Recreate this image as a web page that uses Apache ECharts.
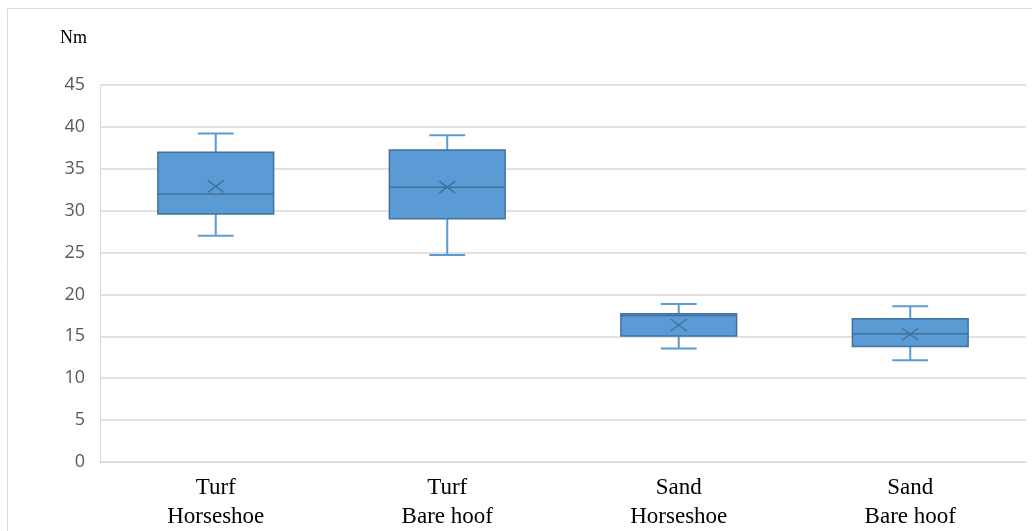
<!DOCTYPE html>
<html>
<head>
<meta charset="utf-8">
<script src="https://cdn.jsdelivr.net/npm/echarts@6/dist/echarts.min.js"></script>
<style>
html,body{margin:0;padding:0;background:#fff;}
#chart{width:1032px;height:531px;}
</style>
</head>
<body>
<div id="chart"></div>
<script>
var categories = ['Turf\nHorseshoe', 'Turf\nBare hoof', 'Sand\nHorseshoe', 'Sand\nBare hoof'];
var mins    = [27.0, 24.7, 13.55, 12.15];
var q1s     = [29.6, 29.05, 15.05, 13.8];
var medians = [32.0, 32.8, 17.5, 15.3];
var q3s     = [36.98, 37.25, 17.7, 17.1];
var maxs    = [39.2, 39.0, 18.85, 18.6];
var means   = [32.9, 32.8, 16.35, 15.25];
var yTicks  = [0, 5, 10, 15, 20, 25, 30, 35, 40, 45];

var data = categories.map(function (c, i) {
  return [i, mins[i], q1s[i], medians[i], q3s[i], maxs[i], means[i]];
});

var fill = '#5B9BD5';
var edge = '#41719C';

var chart = echarts.init(document.getElementById('chart'), null, {renderer: 'canvas'});
chart.setOption({
  animation: false,
  backgroundColor: '#fff',
  graphic: [
    {type: 'rect', shape: {x: 7.5, y: 8.5, width: 1040, height: 540}, style: {fill: 'none', stroke: '#d9d9d9', lineWidth: 1}, silent: true},
    {type: 'text', left: 60, top: 29, style: {text: 'Nm', font: '18px "Liberation Serif", "DejaVu Serif", serif', fill: '#000'}}
  ],
  grid: {left: 100, right: 6, top: 85, bottom: 68},
  xAxis: {
    type: 'category',
    data: categories,
    axisLine: {show: true, lineStyle: {color: '#d9d9d9'}},
    axisTick: {show: false},
    axisLabel: {
      color: '#000',
      fontFamily: '"Liberation Serif", "DejaVu Serif", serif',
      fontSize: 23,
      lineHeight: 29,
      margin: 11
    }
  },
  yAxis: {
    type: 'value',
    min: 0, max: 45, interval: 5,
    axisLine: {show: true, lineStyle: {color: '#d9d9d9'}},
    axisTick: {show: false},
    splitLine: {lineStyle: {color: '#d9d9d9', width: 1.5}},
    axisLabel: {
      color: '#595959',
      fontFamily: '"Open Sans", "Noto Sans", sans-serif',
      fontSize: 18,
      margin: 15,
      formatter: function (v) { return yTicks.indexOf(v) >= 0 ? String(v) : ''; }
    }
  },
  series: [{
    type: 'custom',
    data: data,
    renderItem: function (params, api) {
      var x = api.value(0);
      var bw = api.size([1, 0])[0] * 0.5;
      var cap = api.size([1, 0])[0] * 0.155;
      var pMin = api.coord([x, api.value(1)]);
      var pQ1 = api.coord([x, api.value(2)]);
      var pMed = api.coord([x, api.value(3)]);
      var pQ3 = api.coord([x, api.value(4)]);
      var pMax = api.coord([x, api.value(5)]);
      var pMean = api.coord([x, api.value(6)]);
      var cx = pMed[0];
      var m = 12;
      return {
        type: 'group',
        children: [
          {type: 'line', shape: {x1: cx, y1: pQ3[1], x2: cx, y2: pMax[1]}, style: {stroke: fill, lineWidth: 2}},
          {type: 'line', shape: {x1: cx, y1: pQ1[1], x2: cx, y2: pMin[1]}, style: {stroke: fill, lineWidth: 2}},
          {type: 'line', shape: {x1: cx - cap / 2, y1: pMax[1], x2: cx + cap / 2, y2: pMax[1]}, style: {stroke: fill, lineWidth: 2}},
          {type: 'line', shape: {x1: cx - cap / 2, y1: pMin[1], x2: cx + cap / 2, y2: pMin[1]}, style: {stroke: fill, lineWidth: 2}},
          {type: 'rect', shape: {x: cx - bw / 2, y: pQ3[1], width: bw, height: pQ1[1] - pQ3[1]}, style: {fill: fill, stroke: edge, lineWidth: 1.5}},
          {type: 'line', shape: {x1: cx - bw / 2, y1: pMed[1], x2: cx + bw / 2, y2: pMed[1]}, style: {stroke: edge, lineWidth: 1.5}},
          {type: 'line', shape: {x1: cx - m / 2 - 2, y1: pMean[1] - m / 2, x2: cx + m / 2 + 2, y2: pMean[1] + m / 2}, style: {stroke: edge, lineWidth: 1.5}},
          {type: 'line', shape: {x1: cx - m / 2 - 2, y1: pMean[1] + m / 2, x2: cx + m / 2 + 2, y2: pMean[1] - m / 2}, style: {stroke: edge, lineWidth: 1.5}}
        ]
      };
    }
  }]
});
</script>
</body>
</html>
